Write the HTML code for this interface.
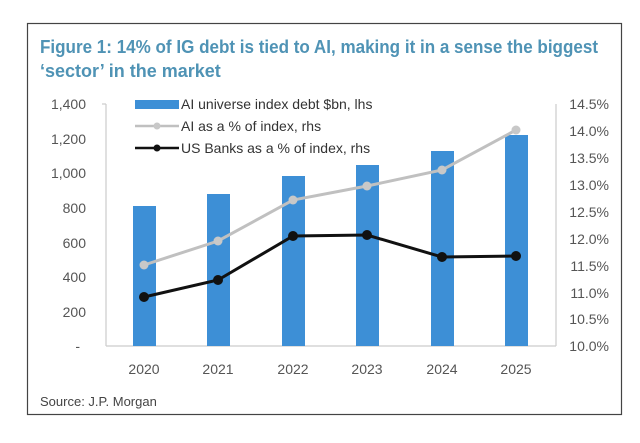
<!DOCTYPE html><html><head><style>body{margin:0;background:#fff;}</style></head><body>
<svg width="640" height="438" xmlns="http://www.w3.org/2000/svg" font-family="Liberation Sans Narrow, Liberation Sans, sans-serif">
<rect x="0" y="0" width="640" height="438" fill="#fff"/>
<rect x="27.5" y="23.5" width="594" height="391" fill="#fff" stroke="#444" stroke-width="1.2"/>
<text x="40" y="53" font-size="18" font-weight="bold" fill="#4f93b5" textLength="558" lengthAdjust="spacingAndGlyphs">Figure 1: 14% of IG debt is tied to AI, making it in a sense the biggest</text>
<text x="40" y="77" font-size="18" font-weight="bold" fill="#4f93b5">‘sector’ in the market</text>
<g font-size="14" fill="#555" text-anchor="end">
<text x="86" y="109">1,400</text><text x="86" y="144">1,200</text><text x="86" y="178">1,000</text>
<text x="86" y="213">800</text><text x="86" y="248">600</text><text x="86" y="282">400</text><text x="86" y="317">200</text><text x="80" y="351">-</text>
</g>
<g font-size="14" fill="#555" text-anchor="end">
<text x="609" y="109">14.5%</text><text x="609" y="136">14.0%</text><text x="609" y="163">13.5%</text>
<text x="609" y="190">13.0%</text><text x="609" y="217">12.5%</text><text x="609" y="244">12.0%</text>
<text x="609" y="271">11.5%</text><text x="609" y="298">11.0%</text><text x="609" y="324">10.5%</text><text x="609" y="351">10.0%</text>
</g>
<g stroke="#ccc" stroke-width="1.2">
<line x1="106" y1="104" x2="106" y2="346"/><line x1="102" y1="104" x2="106" y2="104"/>
<line x1="106" y1="346" x2="556" y2="346"/>
<line x1="556" y1="104" x2="556" y2="346"/>
</g>
<g fill="#3d8fd6">
<rect x="133" y="206" width="23" height="140"/>
<rect x="207" y="194" width="23" height="152"/>
<rect x="282" y="176" width="23" height="170"/>
<rect x="356" y="165" width="23" height="181"/>
<rect x="431" y="151" width="23" height="195"/>
<rect x="505" y="135" width="23" height="211"/>
</g>
<polyline points="144,265 218,241 293,200 367,186 442,170 516,130" fill="none" stroke="#c0c0c0" stroke-width="3"/>
<g fill="#c8c8c8"><circle cx="144" cy="265" r="4.5"/><circle cx="218" cy="241" r="4.5"/><circle cx="293" cy="200" r="4.5"/><circle cx="367" cy="186" r="4.5"/><circle cx="442" cy="170" r="4.5"/><circle cx="516" cy="130" r="4.5"/></g>
<polyline points="144,297 218,280 293,236 367,235 442,257 516,256" fill="none" stroke="#111" stroke-width="3"/>
<g fill="#111"><circle cx="144" cy="297" r="5"/><circle cx="218" cy="280" r="5"/><circle cx="293" cy="236" r="5"/><circle cx="367" cy="235" r="5"/><circle cx="442" cy="257" r="5"/><circle cx="516" cy="256" r="5"/></g>
<g font-size="14" fill="#555" text-anchor="middle">
<text x="144" y="374">2020</text><text x="218" y="374">2021</text><text x="293" y="374">2022</text><text x="367" y="374">2023</text><text x="442" y="374">2024</text><text x="516" y="374">2025</text>
</g>
<rect x="135" y="100" width="44" height="9" fill="#3d8fd6"/>
<text x="181" y="109" font-size="14" fill="#333">AI universe index debt $bn, lhs</text>
<line x1="135" y1="126" x2="179" y2="126" stroke="#c0c0c0" stroke-width="2.5"/><circle cx="157" cy="126" r="3.5" fill="#c8c8c8"/>
<text x="181" y="131" font-size="14" fill="#333">AI as a % of index, rhs</text>
<line x1="135" y1="148" x2="179" y2="148" stroke="#111" stroke-width="2.5"/><circle cx="157" cy="148" r="3.5" fill="#111"/>
<text x="181" y="153" font-size="14" fill="#333">US Banks as a % of index, rhs</text>
<text x="40" y="406" font-size="13" fill="#444">Source: J.P. Morgan</text>
</svg>
</body></html>
